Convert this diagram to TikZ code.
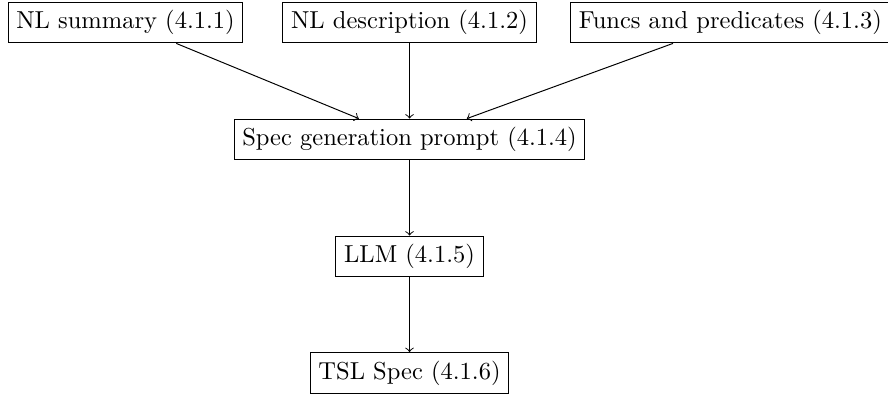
\documentclass[tikz,border=0pt]{standalone}
\begin{document}
\begin{tikzpicture}[x=0.408pt,y=-0.408pt,
  boxnode/.style={draw,rectangle,inner sep=3.33pt}]
\useasboundingbox (0,0) rectangle (888,394);
\node[boxnode] (sum) at (125.5,22.5) {NL summary (4.1.1)};
\node[boxnode] (desc) at (409.5,22.5) {NL description (4.1.2)};
\node[boxnode] (func) at (730.3,22.5) {Funcs and predicates (4.1.3)};
\node[boxnode] (spec) at (409.5,139.5) {Spec generation prompt (4.1.4)};
\node[boxnode] (llm) at (409.5,256.5) {LLM (4.1.5)};
\node[boxnode] (tsl) at (409.5,373) {TSL Spec (4.1.6)};
\draw[->] (sum) -- (spec);
\draw[->] (desc) -- (spec);
\draw[->] (func) -- (spec);
\draw[->] (spec) -- (llm);
\draw[->] (llm) -- (tsl);
\end{tikzpicture}
\end{document}
